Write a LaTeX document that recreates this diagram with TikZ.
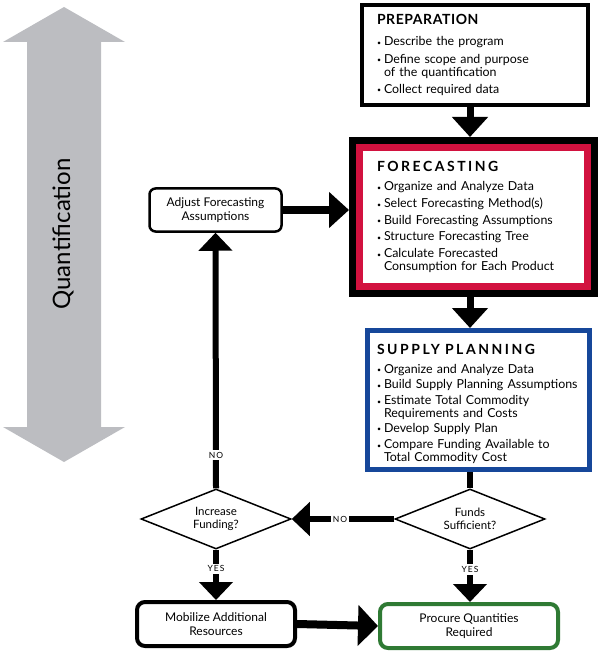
\documentclass[tikz,border=0pt]{standalone}
\usepackage{fontspec}
\setmainfont{Lato}
\usetikzlibrary{arrows.meta,shapes.geometric,calc}
\definecolor{fcred}{HTML}{D2123F}
\definecolor{spblue}{HTML}{16479A}
\definecolor{prgreen}{HTML}{2F7A34}
\definecolor{qgray}{HTML}{BCBDC1}
\newlength\bgap
\setlength\bgap{3pt}
\newcommand\bitem[1]{\par\vspace{\bgap}\noindent\makebox[7pt][l]{\raisebox{0.5pt}{\scriptsize\textbullet}}\parbox[t]{\dimexpr\hsize-7pt\relax}{\raggedright #1}}
\newcommand\boxtitle[1]{{\bfseries\fontsize{14}{16}\selectfont\addfontfeature{LetterSpace=18}#1}\par\vspace{3pt}}
\begin{document}
\begin{tikzpicture}[x=1pt,y=-1pt,
  box/.style={draw, fill=white, inner sep=0pt, align=left, font=\fontsize{12.4}{13.3}\selectfont},
  rbox/.style={draw, rounded corners=6pt, fill=white, align=center, inner sep=0pt, font=\fontsize{12}{13.5}\selectfont},
  dia/.style={diamond, draw, line width=1.5pt, fill=white, minimum width=150pt, minimum height=60pt, aspect=2.5, inner sep=0pt, align=center, font=\fontsize{11.5}{13}\selectfont},
  arr/.style={line width=7pt, -{Triangle[width=35pt,length=20pt]}},
  arrs/.style={line width=6pt, -{Triangle[width=33pt,length=18pt]}},
  arrb/.style={line width=8pt, -{Triangle[width=40pt,length=20pt]}},
  lbl/.style={fill=white, inner sep=2pt, font=\fontsize{8.5}{8.5}\selectfont\addfontfeature{LetterSpace=12}}
]
\useasboundingbox (0,0) rectangle (600,652);
% gray double arrow
\fill[qgray] (64,7) -- (125,42) -- (101,42) -- (101,427) -- (125,427) -- (64,462) -- (3,427) -- (27,427) -- (27,42) -- (3,42) -- cycle;
\node[rotate=90, font=\fontsize{24}{24}\selectfont] (quant) at (63,234) {Quantification};

% preparation
\node[box, line width=4pt, minimum width=226pt, minimum height=100pt, text width=196pt] (prep) at (475,55)
 {\setlength\bgap{4.5pt}\boxtitle{\addfontfeature{LetterSpace=4}PREPARATION}
  \bitem{Describe the program}
  \bitem{Define scope and purpose\\of the quantification}
  \bitem{Collect required data}};

% forecasting
\node[draw, line width=8pt, minimum width=241pt, minimum height=152pt, inner sep=0pt] (fcframe) at (473.5,217) {};
\node[box, draw=fcred, line width=7pt, minimum width=228pt, minimum height=138pt, text width=193pt] (fc) at (473.5,217)
 {\setlength\bgap{3.4pt}\boxtitle{FORECASTING}
  \bitem{Organize and Analyze Data}
  \bitem{Select Forecasting Method(s)}
  \bitem{Build Forecasting Assumptions}
  \bitem{Structure Forecasting Tree}
  \bitem{Calculate Forecasted\\Consumption for Each Product}};

% supply planning
\node[box, draw=spblue, line width=5pt, minimum width=222pt, minimum height=139pt, text width=203pt] (sp) at (478.5,400)
 {\setlength\bgap{3pt}\fontsize{12.4}{12.6}\selectfont\boxtitle{\raisebox{-8pt}[\height][0pt]{SUPPLY\hspace{5pt}PLANNING}}\vspace*{8pt}
  \bitem{Organize and Analyze Data}
  \bitem{Build Supply Planning Assumptions}
  \bitem{Estimate Total Commodity\\Requirements and Costs}
  \bitem{Develop Supply Plan}
  \bitem{Compare Funding Available to\\Total Commodity Cost}};

% decisions
\node[dia] (funds) at (470,519) {Funds\\Sufficient?};
\node[dia] (incr) at (216,519) {Increase\\Funding?};

% rounded boxes
\node[rbox, line width=2.5pt, minimum width=132pt, minimum height=43pt] (adj) at (215.5,210) {Adjust Forecasting\\Assumptions};
\node[rbox, line width=4pt, rounded corners=8pt, minimum width=158pt, minimum height=44pt] (mob) at (216,624) {Mobilize Additional\\Resources};
\node[rbox, draw=prgreen, line width=4pt, rounded corners=8pt, minimum width=178pt, minimum height=44pt] (proc) at (469,626) {Procure Quantities\\Required};

% connectors
\draw[arr] (prep.south -| funds.center) -- (fcframe.north -| funds.center);
\draw[arr] (fcframe.south -| funds.center) -- (sp.north -| funds.center);
\draw[line width=6pt] (sp.south -| funds.center) -- (funds.north);
\draw[arrs] (funds.south) -- node[lbl, pos=0.38] {YES} (proc.north -| funds.center);
\draw[arrs] (funds.west) -- node[lbl, pos=0.53] {NO} (incr.east);
\draw[arrs] (incr.south) -- node[lbl, pos=0.38] {YES} (mob.north);
\draw[arrs] (incr.north) -- node[lbl, pos=0.13] {NO} (adj.south);
\draw[arr] (adj.east) -- (fcframe.west |- adj.east);
\draw[arrb] (mob.east) -- (proc.west);
\end{tikzpicture}
\end{document}
